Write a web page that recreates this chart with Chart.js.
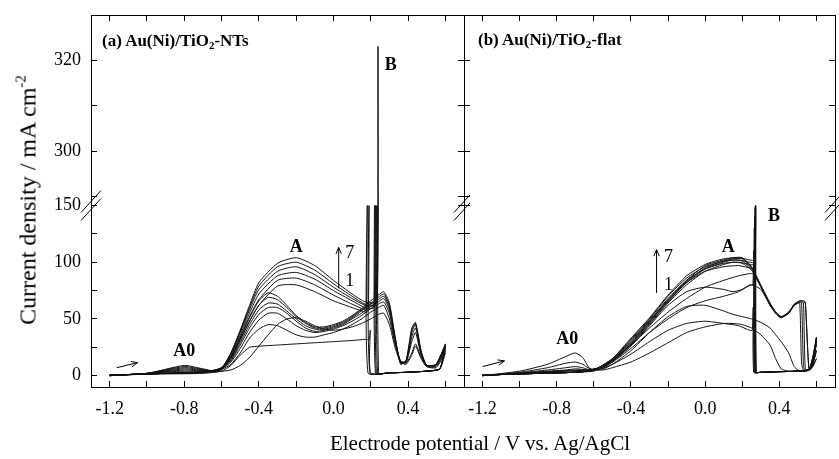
<!DOCTYPE html>
<html>
<head>
<meta charset="utf-8">
<script src="https://cdn.jsdelivr.net/npm/chart.js@4.4.1/dist/chart.umd.min.js"></script>
<style>
  body { margin: 0; background: #fff; width: 839px; height: 459px; overflow: hidden; position: relative; font-family: "Liberation Serif", "Times New Roman", serif; color: #000; }
  canvas { position: absolute; top: 0; }
  #chartA { left: 0; }
  #chartB { left: 440px; }
  .txt { position: absolute; white-space: nowrap; line-height: 20px; }
  .panel { font-weight: bold; font-size: 17px; }
  .panel sub { font-size: 11px; vertical-align: -3px; }
  .axis { font-size: 21px; }
  #ytitle { left: 24px; top: 200px; font-size: 24px; transform: translate(-50%, -50%) rotate(-90deg); }
  #ytitle sup { font-size: 15px; vertical-align: 10px; }
  #xtitle { left: 480px; top: 443px; transform: translate(-50%, -50%); }
</style>
</head>
<body>
<canvas id="chartA" width="470" height="459"></canvas>
<canvas id="chartB" width="399" height="459"></canvas>
<div class="txt panel" style="left:102px; top:31px">(a) Au(Ni)/TiO<sub>2</sub>-NTs</div>
<div class="txt panel" style="left:478px; top:30px">(b) Au(Ni)/TiO<sub>2</sub>-flat</div>
<div class="txt axis" id="ytitle">Current density / mA cm<sup>-2</sup></div>
<div class="txt axis" id="xtitle">Electrode potential / V vs. Ag/AgCl</div>
<script>
// axis ticks
const xTicks = [-1.2, -1.0, -0.8, -0.6, -0.4, -0.2, 0.0, 0.2, 0.4, 0.6]
const xLabels = [-1.2, -0.8, -0.4, 0.0, 0.4]
const yLowTicks = [0, 25, 50, 75, 100, 125, 150]
const yLowLabels = [0, 50, 100, 150]
const yUpTicks = [290, 300, 310, 320]
const yUpLabels = [300, 320]

// (a) Au(Ni)/TiO2-NTs, scans 1..7
const potFwdA = [-1.2, -1.0, -0.8, -0.7, -0.62, -0.55, -0.5, -0.45, -0.4, -0.35, -0.3, -0.25, -0.2, -0.15, -0.1, -0.05, 0.0, 0.05, 0.1, 0.15, 0.2, 0.24, 0.27, 0.3, 0.33, 0.36, 0.39, 0.42, 0.44, 0.47, 0.5, 0.55, 0.6]
const curFwdA = [
  [0, 1.5, 3, 3, 3.5, 5, 9, 16, 26, 36, 45, 50, 51, 48, 44, 41, 40, 41, 43, 46, 50, 54, 55, 45, 25, 12, 10, 18, 26, 15, 8, 7, 20],
  [0, 2, 4, 3.5, 4, 10, 20, 33, 41, 45, 44, 40, 36, 34, 34, 36, 38, 41, 45, 50, 56, 60, 62, 50, 28, 13, 11, 20, 28, 16, 8, 8, 22],
  [0, 2, 5, 4, 4, 12, 24, 38, 49, 55, 55, 50, 44, 40, 38, 39, 41, 44, 48, 53, 59, 63, 65, 55, 30, 13, 12, 30, 38, 18, 9, 9, 24],
  [0, 2, 6, 4.5, 4, 13, 27, 42, 54, 60, 60, 55, 48, 42, 39, 40, 42, 45, 50, 55, 61, 65, 68, 58, 32, 12, 12, 34, 42, 19, 9, 9, 25],
  [0, 2, 7, 5, 4, 14, 29, 45, 58, 64, 63, 57, 50, 44, 41, 41, 43, 46, 51, 57, 63, 67, 70, 60, 33, 11, 13, 38, 45, 20, 9, 9, 26],
  [0, 2, 8, 5.5, 4, 15, 31, 48, 62, 69, 67, 60, 52, 46, 42, 42, 44, 47, 52, 58, 64, 69, 72, 62, 34, 11, 13, 40, 46, 21, 9, 10, 27],
  [0, 2, 9, 6, 4, 16, 33, 51, 66, 73, 70, 62, 53, 47, 43, 43, 45, 48, 53, 59, 66, 71, 74, 64, 35, 10, 14, 42, 47, 22, 9, 10, 28]
]
const potHeadA = [0.6, 0.57, 0.5, 0.4, 0.3]
const curHeadA = [
  [20, 6, 4, 3, 2.5], [22, 6, 4, 3, 2.5], [24, 6, 4, 3, 2.5], [25, 6, 4, 3, 2.5],
  [26, 6, 4, 3, 2.5], [27, 6, 4, 3, 2.5], [28, 6, 4, 3, 2.5]
]
const spikePotA = [0.2, 0.185, 0.195, 0.225, 0.23, 0.236, 0.242]
const spikePeakA = [40, 160, 175, 190, 220, 260, 323]
const potTailA = [0.17, 0.1, 0.0, -0.1, -0.2, -0.3, -0.4, -0.45, -0.5, -0.55, -0.6, -0.7, -0.9, -1.2]
const curTailA = [
  [32, 31, 30, 29, 28, 27, 26, 25, 18, 9, 4, 2, 1.5, 0.5],
  [56, 60, 66, 74, 80, 79, 62, 48, 32, 16, 6, 3, 2, 0.5],
  [58, 63, 71, 80, 86, 84, 67, 52, 34, 17, 6, 3, 2, 0.5],
  [60, 66, 75, 85, 91, 88, 72, 55, 36, 18, 6, 3, 2, 0.5],
  [62, 68, 78, 89, 96, 92, 76, 58, 38, 19, 7, 3, 2, 0.5],
  [63, 70, 81, 93, 100, 96, 79, 60, 39, 20, 7, 3, 2, 0.5],
  [65, 72, 84, 97, 104, 99, 82, 62, 40, 20, 7, 3, 2, 0.5]
]

// (b) Au(Ni)/TiO2-flat, scans 1..7
const potFwdB = [-1.2, -1.0, -0.85, -0.75, -0.7, -0.66, -0.62, -0.55, -0.5, -0.4, -0.3, -0.2, -0.1, 0.0, 0.1, 0.15, 0.2, 0.25, 0.3, 0.35, 0.38, 0.41, 0.45, 0.48, 0.5, 0.51, 0.52, 0.53, 0.54, 0.56, 0.58, 0.6]
const curFwdB = [
  [0, 4, 10, 17, 20, 16, 6, 5, 7, 12, 20, 29, 38, 43, 46, 46, 45, 42, 36, 27, 15, 6, 4, 4, 4, 4, 4, 4, 4, 5, 8, 15],
  [0, 3, 7, 11, 12, 10, 6, 6, 10, 22, 38, 52, 61, 62, 57, 54, 52, 50, 47, 42, 36, 30, 20, 8, 5, 4, 4, 4, 4, 5, 10, 22],
  [0, 2.5, 5, 7, 8, 7, 5, 7, 12, 26, 44, 62, 74, 78, 76, 74, 76, 80, 76, 62, 55, 51, 56, 62, 64, 64, 10, 5, 4, 5, 12, 28],
  [0, 2, 4, 5, 6, 5.5, 5, 8, 13, 27, 45, 64, 80, 92, 98, 100, 99, 93, 78, 62, 55, 51, 55, 62, 64, 65, 64, 8, 5, 5, 14, 30],
  [0, 2, 3.5, 4.5, 5, 5, 5, 8, 13, 28, 46, 65, 82, 94, 100, 102, 101, 94, 79, 63, 56, 52, 55, 62, 64, 65, 65, 64, 6, 5, 15, 32],
  [0, 2, 3.5, 4, 4.5, 4.5, 5, 8, 13, 28, 47, 66, 83, 95, 101, 103, 103, 95, 79, 63, 56, 52, 55, 63, 65, 66, 66, 65, 64, 6, 16, 33],
  [0, 2, 3, 4, 4, 4, 5, 8, 14, 29, 48, 67, 84, 97, 102, 104, 104, 96, 80, 64, 56, 52, 56, 63, 65, 66, 66, 66, 65, 5, 16, 34]
]
const potHeadB = [0.6, 0.57, 0.5, 0.4, 0.3]
const curHeadB = [
  [15, 6, 4, 3.5, 3], [22, 6, 4, 3.5, 3], [28, 6, 4, 3.5, 3], [30, 6, 4, 3.5, 3],
  [32, 6, 4, 3.5, 3], [33, 6, 4, 3.5, 3], [34, 6, 4, 3.5, 3]
]
const spikePotB = [0.262, 0.265, 0.268, 0.27, 0.272, 0.274, 0.276]
const spikePeakB = [60, 110, 130, 140, 148, 150, 152]
const potTailB = [0.24, 0.18, 0.1, 0.0, -0.1, -0.2, -0.3, -0.4, -0.5, -0.6, -0.7, -0.9, -1.2]
const curTailB = [
  [40, 44, 46, 48, 46, 40, 30, 19, 10, 4, 3, 2, 0.5],
  [80, 74, 70, 66, 60, 50, 38, 24, 12, 5, 3, 2, 0.5],
  [90, 88, 84, 78, 68, 56, 42, 27, 13, 5, 3, 2, 0.5],
  [95, 97, 96, 92, 82, 66, 48, 30, 14, 5, 3, 2, 0.5],
  [98, 100, 99, 94, 84, 68, 49, 31, 14, 5, 3, 2, 0.5],
  [100, 102, 101, 96, 86, 70, 50, 32, 15, 5, 3, 2, 0.5],
  [102, 104, 103, 98, 88, 71, 51, 33, 15, 5, 3, 2, 0.5]
]

const serif = '"Liberation Serif", "Times New Roman", serif'

function scanPath(potF, curF, potH, curH, sPot, sPeak, potT, curT) {
  const pts = potF.map((x, i) => ({ x, y: curF[i] }))
  potH.forEach((x, i) => pts.push({ x, y: curH[i] }))
  pts.push({ x: sPot, y: curH[curH.length - 1] })
  pts.push({ x: sPot - 0.003, y: sPeak })
  pts.push({ x: sPot - 0.008, y: curT[0] })
  potT.forEach((x, i) => pts.push({ x, y: curT[i] }))
  return pts
}

function isIn(list, v) { return list.some(m => Math.abs(m - v) < 1e-6) }

function noPad(s) { s.paddingTop = 0; s.paddingBottom = 0; s.paddingLeft = 0; s.paddingRight = 0 }

function xScale(pos, h, labels) {
  return {
    type: "linear", position: pos, min: -1.3, max: 0.7,
    afterBuildTicks: s => { s.ticks = xTicks.map(v => ({ value: v })) },
    afterFit: s => { s.height = h; noPad(s) },
    grid: { drawOnChartArea: false, tickLength: -6, tickColor: "#000" },
    border: { color: "#000", width: 1 },
    ticks: {
      display: labels, autoSkip: false, maxRotation: 0, padding: 17, color: "#000",
      font: { family: serif, size: 18 },
      callback: v => isIn(xLabels, v) ? v.toFixed(1) : ""
    }
  }
}

function yScale(pos, upper, w, labels) {
  return {
    type: "linear", position: pos, stack: pos, stackWeight: upper ? 191 : 182,
    min: upper ? 288 : -10, max: upper ? 330 : 150,
    afterBuildTicks: s => { s.ticks = (upper ? yUpTicks : yLowTicks).map(v => ({ value: v })) },
    afterFit: s => { s.width = w; noPad(s) },
    grid: { drawOnChartArea: false, tickLength: -6, tickColor: "#000" },
    border: { color: "#000", width: 1 },
    ticks: {
      display: labels, autoSkip: false, padding: 16, color: "#000",
      font: { family: serif, size: 18 },
      callback: v => isIn(upper ? yUpLabels : yLowLabels, v) ? String(v) : ""
    }
  }
}

// keep each copy of a curve inside its own part of the broken axis
const clipToScale = {
  id: "clipToScale",
  beforeDatasetDraw(chart, args) {
    const ys = chart.scales[args.meta.yAxisID]
    const a = chart.chartArea
    chart.ctx.save()
    chart.ctx.beginPath()
    chart.ctx.rect(a.left, ys.top, a.right - a.left, ys.bottom - ys.top)
    chart.ctx.clip()
  },
  afterDatasetDraw(chart) { chart.ctx.restore() }
}

const breakMarks = {
  id: "breakMarks",
  afterDraw(chart, args, o) {
    const ctx = chart.ctx
    const y = chart.scales.yLow.top
    ctx.save()
    ctx.strokeStyle = "#000"
    ctx.lineWidth = 1
    o.sides.forEach(side => {
      const x = side === "left" ? chart.chartArea.left : chart.chartArea.right
      ;[-4, 4].forEach(d => {
        ctx.beginPath()
        ctx.moveTo(x - 10, y + d + 11)
        ctx.lineTo(x + 10, y + d - 11)
        ctx.stroke()
      })
    })
    ctx.restore()
  }
}

const notes = {
  id: "notes",
  afterDatasetsDraw(chart, args, o) {
    const ctx = chart.ctx
    const xs = chart.scales.x
    ctx.save()
    ctx.fillStyle = "#000"
    ctx.strokeStyle = "#000"
    ctx.lineWidth = 1
    ctx.textAlign = "center"
    ctx.textBaseline = "middle"
    o.texts.forEach(t => {
      ctx.font = (t.bold ? "bold " : "") + "18px " + serif
      ctx.fillText(t.text, xs.getPixelForValue(t.x), chart.scales[t.axis || "yLow"].getPixelForValue(t.y))
    })
    o.arrows.forEach(a => {
      const ys = chart.scales.yLow
      const x1 = xs.getPixelForValue(a.x1), y1 = ys.getPixelForValue(a.y1)
      const x2 = xs.getPixelForValue(a.x2), y2 = ys.getPixelForValue(a.y2)
      const ang = Math.atan2(y2 - y1, x2 - x1)
      ctx.beginPath()
      ctx.moveTo(x1, y1)
      ctx.lineTo(x2, y2)
      ctx.moveTo(x2 - 7 * Math.cos(ang - 0.4), y2 - 7 * Math.sin(ang - 0.4))
      ctx.lineTo(x2, y2)
      ctx.lineTo(x2 - 7 * Math.cos(ang + 0.4), y2 - 7 * Math.sin(ang + 0.4))
      ctx.stroke()
    })
    ctx.restore()
  }
}

function makeDatasets(d, withUpper) {
  const sets = []
  d.curFwd.forEach((cf, k) => {
    const pts = scanPath(d.potFwd, cf, d.potHead, d.curHead[k], d.spikePot[k], d.spikePeak[k], d.potTail, d.curTail[k])
    const axes = withUpper ? ["yLow", "yUp"] : ["yLow"]
    axes.forEach(ax => sets.push({
      label: "scan " + (k + 1), data: pts, yAxisID: ax, xAxisID: "x",
      showLine: true, borderColor: "#111", borderWidth: 1, pointRadius: 0, tension: 0.2, clip: false
    }))
  })
  return sets
}

function makePanel(id, d, leftW, rightW, leftLabels, sides, texts, arrows) {
  new Chart(document.getElementById(id), {
    type: "scatter",
    data: { datasets: makeDatasets(d, true) },
    options: {
      responsive: false, animation: false, events: [],
      layout: { autoPadding: false, padding: 0 },
      plugins: { legend: { display: false }, tooltip: { enabled: false }, breakMarks: { sides }, notes: { texts, arrows } },
      scales: {
        x: xScale("bottom", 72, true),
        xTop: xScale("top", 15, false),
        yLow: yScale("left", false, leftW, leftLabels),
        yUp: yScale("left", true, leftW, leftLabels),
        yUpR: yScale("right", true, rightW, false),
        yLowR: yScale("right", false, rightW, false)
      }
    },
    plugins: [clipToScale, breakMarks, notes]
  })
}

makePanel("chartA", {
  potFwd: potFwdA, curFwd: curFwdA, potHead: potHeadA, curHead: curHeadA,
  spikePot: spikePotA, spikePeak: spikePeakA, potTail: potTailA, curTail: curTailA
}, 91, 6, true, ["left", "right"], [
  { text: "A0", x: -0.8, y: 21, bold: true },
  { text: "A", x: -0.2, y: 113, bold: true },
  { text: "B", x: 0.307, y: 319, bold: true, axis: "yUp" },
  { text: "7", x: 0.087, y: 108 },
  { text: "1", x: 0.087, y: 83 }
], [
  { x1: 0.028, y1: 77, x2: 0.028, y2: 113 },
  { x1: -1.162, y1: 7, x2: -1.05, y2: 11.5 }
])

makePanel("chartB", {
  potFwd: potFwdB, curFwd: curFwdB, potHead: potHeadB, curHead: curHeadB,
  spikePot: spikePotB, spikePeak: spikePeakB, potTail: potTailB, curTail: curTailB
}, 24, 4, false, ["right"], [
  { text: "A0", x: -0.744, y: 32, bold: true },
  { text: "A", x: 0.124, y: 113, bold: true },
  { text: "B", x: 0.371, y: 140, bold: true },
  { text: "7", x: -0.197, y: 104 },
  { text: "1", x: -0.197, y: 80 }
], [
  { x1: -0.262, y1: 73, x2: -0.262, y2: 111 },
  { x1: -1.2, y1: 8, x2: -1.082, y2: 13 }
])
</script>
</body>
</html>
